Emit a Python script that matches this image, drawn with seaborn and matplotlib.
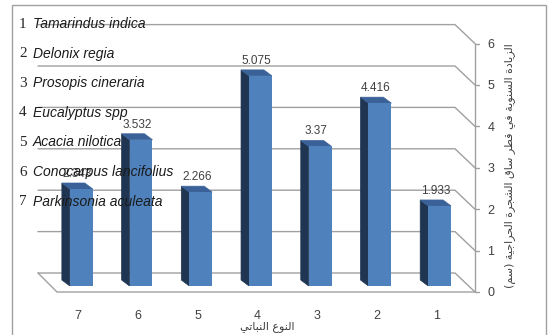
import matplotlib
matplotlib.use("Agg")
import matplotlib.pyplot as plt
import matplotlib.transforms as mtransforms
from matplotlib.patches import Polygon, Rectangle
import seaborn as sns

# ---- data -------------------------------------------------------------
categories = ["7", "6", "5", "4", "3", "2", "1"]
growth = [2.343, 3.532, 2.266, 5.075, 3.37, 4.416, 1.933]
value_labels = ["2.343", "3.532", "2.266", "5.075", "3.37", "4.416", "1.933"]
y_ticks = [0, 1, 2, 3, 4, 5, 6]
species_numbers = ["1", "2", "3", "4", "5", "6", "7"]
species_names = ["Tamarindus indica", "Delonix regia", "Prosopis cineraria",
                 "Eucalyptus spp", "Acacia nilotica", "Conocarpus lancifolius",
                 "Parkinsonia aculeata"]
y_title = "الزيادة السنوية في قطر ساق الشجرة الحراجية (سم)"
x_title = "النوع النباتي"

# ---- minimal Arabic shaping (contextual forms + visual order) ----------
FORMS = {  # isolated, final, initial, medial
    "ا": (0xFE8D, 0xFE8E, None, None),
    "ب": (0xFE8F, 0xFE90, 0xFE91, 0xFE92),
    "ة": (0xFE93, 0xFE94, None, None),
    "ت": (0xFE95, 0xFE96, 0xFE97, 0xFE98),
    "ج": (0xFE9D, 0xFE9E, 0xFE9F, 0xFEA0),
    "ح": (0xFEA1, 0xFEA2, 0xFEA3, 0xFEA4),
    "د": (0xFEA9, 0xFEAA, None, None),
    "ر": (0xFEAD, 0xFEAE, None, None),
    "ز": (0xFEAF, 0xFEB0, None, None),
    "س": (0xFEB1, 0xFEB2, 0xFEB3, 0xFEB4),
    "ش": (0xFEB5, 0xFEB6, 0xFEB7, 0xFEB8),
    "ط": (0xFEC1, 0xFEC2, 0xFEC3, 0xFEC4),
    "ع": (0xFEC9, 0xFECA, 0xFECB, 0xFECC),
    "ف": (0xFED1, 0xFED2, 0xFED3, 0xFED4),
    "ق": (0xFED5, 0xFED6, 0xFED7, 0xFED8),
    "ل": (0xFEDD, 0xFEDE, 0xFEDF, 0xFEE0),
    "م": (0xFEE1, 0xFEE2, 0xFEE3, 0xFEE4),
    "ن": (0xFEE5, 0xFEE6, 0xFEE7, 0xFEE8),
    "و": (0xFEED, 0xFEEE, None, None),
    "ي": (0xFEF1, 0xFEF2, 0xFEF3, 0xFEF4),
}


def shape_arabic(text):
    def dual(c):
        return c in FORMS and FORMS[c][2] is not None
    out = []
    for i, c in enumerate(text):
        if c not in FORMS:
            out.append(c)
            continue
        prev = text[i - 1] if i > 0 else None
        nxt = text[i + 1] if i + 1 < len(text) else None
        link_prev = prev is not None and dual(prev)
        link_next = dual(c) and nxt in FORMS
        iso, fin, ini, med = FORMS[c]
        if link_prev and link_next:
            code = med
        elif link_prev:
            code = fin
        elif link_next:
            code = ini
        else:
            code = iso
        out.append(chr(code))
    mirror = {"(": ")", ")": "("}
    return "".join(mirror.get(c, c) for c in reversed(out))


# ---- figure ----------------------------------------------------------
sns.set_style("white")
plt.rcParams["font.family"] = ["Liberation Sans", "DejaVu Sans"]

W, H = 550, 335
fig = plt.figure(figsize=(W / 100, H / 100), dpi=100)
ax_left, ax_right, ax_bottom_px, ax_top_px = 38, 475, 286, 37.6
ax = fig.add_axes([ax_left / W, (H - ax_bottom_px) / H,
                   (ax_right - ax_left) / W, (ax_bottom_px - ax_top_px) / H])

front = "#4f81bd"
side = "#1f3552"
top = "#3a6298"
grid = "#a0a0a0"

sns.barplot(x=categories, y=growth, order=categories, color=front,
            saturation=1, width=0.383, ax=ax, zorder=3, linewidth=0,
            edgecolor=front)
ax.set_xlim(-0.725, 6.592)
ax.set_ylim(0, 6)
for s in ax.spines.values():
    s.set_visible(False)
ax.set_xlabel("")
ax.set_ylabel("")

# pixel -> axis-unit helpers
ax_w = ax_right - ax_left
ax_h = ax_bottom_px - ax_top_px
px_y = 6 / ax_h                      # data units per pixel (vertical)
px_x = (6.592 + 0.725) / ax_w        # data units per pixel (horizontal)
yt = ax.get_yaxis_transform()

# back wall gridlines with the slanted link to the value axis
back_end = (455 - ax_left) / ax_w
for v in y_ticks:
    ax.plot([0, back_end, 1.0], [v + 13 * px_y, v + 13 * px_y, v - 6 * px_y],
            transform=yt, color=grid, lw=1, clip_on=False, zorder=1)
    ax.plot([1.0, 1.0 + 4 / ax_w], [v - 6 * px_y, v - 6 * px_y],
            transform=yt, color=grid, lw=1, clip_on=False, zorder=1)

# floor outline
front_start = (57 - ax_left) / ax_w
ax.plot([0, front_start, 1.0], [13 * px_y, -6 * px_y, -6 * px_y],
        transform=yt, color=grid, lw=1, clip_on=False, zorder=1)
# value axis line
ax.plot([1.0, 1.0], [-6 * px_y, 6 - 6 * px_y], transform=yt, color=grid,
        lw=1, clip_on=False, zorder=1)

# 3-D faces of the columns, taken from each bar's own geometry
dx, dy = 8 * px_x, 6 * px_y
for bar, lab in zip(ax.patches, value_labels):
    x0 = bar.get_x()
    x1 = x0 + bar.get_width()
    h = bar.get_height()
    ax.add_patch(Polygon([(x0, 0), (x0, h), (x0 - dx, h + dy), (x0 - dx, dy)],
                         closed=True, facecolor=side, edgecolor=side, lw=0.5,
                         zorder=2))
    ax.add_patch(Polygon([(x0, h), (x1, h), (x1 - dx, h + dy), (x0 - dx, h + dy)],
                         closed=True, facecolor=top, edgecolor=top, lw=0.5,
                         zorder=2))
    ax.text((x0 + x1) / 2 - 4 * px_x, h + 12 * px_y, lab, ha="center",
            va="baseline", fontsize=8.5, color="#404040", zorder=5)

# ticks
ax.yaxis.tick_right()
ax.set_yticks(y_ticks)
ax.set_yticklabels([str(t) for t in y_ticks])
ax.tick_params(axis="y", length=0, pad=9, labelsize=9, labelcolor="#404040")
shift_down = mtransforms.ScaledTranslation(0, -6 / 100, fig.dpi_scale_trans)
for t in ax.get_yticklabels():
    t.set_transform(t.get_transform() + shift_down)

ax.set_xticks(range(len(categories)))
ax.set_xticklabels(categories)
ax.tick_params(axis="x", length=0, pad=17, labelsize=9, labelcolor="#404040")
shift_left = mtransforms.ScaledTranslation(-3 / 100, 0, fig.dpi_scale_trans)
for t in ax.get_xticklabels():
    t.set_transform(t.get_transform() + shift_left)

# axis titles
fig.text(510 / W, (H - 166) / H, shape_arabic(y_title), rotation=90,
         ha="center", va="center", fontsize=8, color="#404040",
         family=["DejaVu Sans"])
fig.text(267 / W, (H - 327) / H, shape_arabic(x_title), ha="center",
         va="center", fontsize=8, color="#404040", family=["DejaVu Sans"])

# species key
for i, (num, name) in enumerate(zip(species_numbers, species_names)):
    yc = (H - (24 + i * 29.6)) / H
    fig.text(19 / W, yc, num, ha="left", va="center", fontsize=11,
             family=["Liberation Serif"], color="#262626")
    fig.text(33 / W, yc, name, ha="left", va="center", fontsize=10,
             style="italic", color="#1a1a1a")

# chart frame
fig.add_artist(Rectangle((12 / W, -0.02), (546 - 12) / W, (H - 5) / H + 0.02,
                         transform=fig.transFigure, fill=False,
                         edgecolor="#a0a0a0", lw=1))

fig.savefig("out.png", dpi=100)
